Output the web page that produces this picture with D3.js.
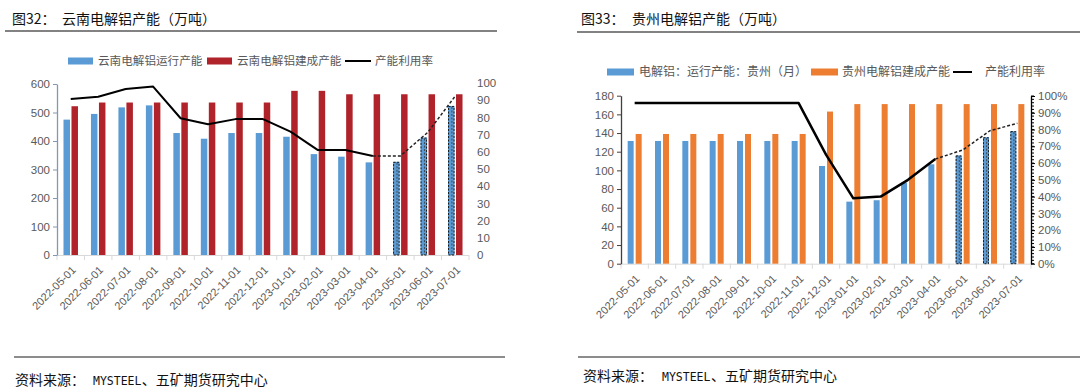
<!DOCTYPE html>
<html><head><meta charset="utf-8">
<script src="https://cdn.jsdelivr.net/npm/d3@7"></script>
<style>
body{margin:0;background:#fff;}
svg{display:block;}
text{font-family:"Liberation Sans","Noto Sans CJK SC",sans-serif;}
.cjk{font-family:"Noto Sans CJK SC",sans-serif;}
</style></head><body>
<svg id="c" width="1080" height="392"></svg>
<script>
// ---------- data ----------
const months = ["2022-05-01","2022-06-01","2022-07-01","2022-08-01","2022-09-01","2022-10-01","2022-11-01","2022-12-01","2023-01-01","2023-02-01","2023-03-01","2023-04-01","2023-05-01","2023-06-01","2023-07-01"];
// Yunnan
const ynRunning = [475,495,518,525,428,408,428,428,415,354,345,325,327,412,523];
const ynBuilt   = [522,535,535,535,535,535,535,535,576,576,564,564,564,564,564];
const ynUtil    = [90.7,92,96.5,97.9,79.5,76,79,79,71.7,61,61,57.6,57.6,71.3,92.4];
const ynLeftTicks  = [0,100,200,300,400,500,600];
const ynRightTicks = [0,10,20,30,40,50,60,70,80,90,100];
// Guizhou
const gzRunning = [131.5,131.5,131.5,131.5,131.5,131.5,131.5,104.7,66.5,68,86.8,106.5,116,135.5,142];
const gzBuilt   = [139,139,139,139,139,139,139,163,171,171,171,171,171,171,171];
const gzUtil    = [0.958,0.958,0.958,0.958,0.958,0.958,0.958,0.65,0.39,0.40,0.50,0.624,0.678,0.793,0.837];
const gzLeftTicks  = [0,20,40,60,80,100,120,140,160,180];
const gzRightTicks = [0,0.1,0.2,0.3,0.4,0.5,0.6,0.7,0.8,0.9,1.0];

const forecastStart = 12; // bars from 2023-05 are forecasts (dashed)
const lineDashFrom = 11;  // line dashed from 2023-04 on

const svg = d3.select("#c");
const tickColor = "#595959";

function drawChart(cfg){
  const g = svg.append("g");
  const x = d3.scaleBand().domain(months).range([cfg.x0, cfg.x1]).padding(0);
  const inner = d3.scaleBand().domain(["run","built"]).range([0, x.bandwidth()])
      .paddingInner(cfg.pIn).paddingOuter(cfg.pOut);
  const yL = d3.scaleLinear().domain(cfg.leftDomain).range([cfg.yBottom, cfg.yTop]);
  const yR = d3.scaleLinear().domain(cfg.rightDomain).range([cfg.yBottom, cfg.yTopR]);

  // x axis line + boundary ticks
  g.append("line").attr("x1",cfg.x0).attr("x2",cfg.x1).attr("y1",cfg.yBottom+0.5).attr("y2",cfg.yBottom+0.5)
    .attr("stroke","#d9d9d9").attr("stroke-width",1);
  const bounds = months.map(m=>x(m)).concat([cfg.x1]);
  g.selectAll(".xt").data(bounds).join("line")
    .attr("x1",d=>d).attr("x2",d=>d).attr("y1",cfg.yBottom).attr("y2",cfg.yBottom+5)
    .attr("stroke","#d9d9d9");
  // x labels
  g.selectAll(".xl").data(months).join("text")
    .attr("transform",d=>`translate(${x(d)+x.bandwidth()/2+3},${cfg.yBottom+13}) rotate(-45)`)
    .attr("text-anchor","end").attr("dy","0.35em")
    .attr("font-size",11).attr("fill",tickColor).text(d=>d);

  // left axis
  const la = g.append("g").attr("transform",`translate(${cfg.x0},0)`)
    .call(d3.axisLeft(yL).tickValues(cfg.leftTicks).tickSize(4).tickSizeOuter(0));
  la.select(".domain").attr("stroke",cfg.leftAxisColor).attr("stroke-width",1.3);
  la.selectAll(".tick line").attr("stroke",cfg.leftAxisColor);
  la.selectAll(".tick text").attr("fill",tickColor).attr("font-size",11.5)
    .attr("font-family","Liberation Sans").attr("x",-7);

  // right axis
  const ra = g.append("g").attr("transform",`translate(${cfg.x1},0)`)
    .call(d3.axisRight(yR).tickValues(cfg.rightTicks).tickSize(cfg.rightTickSize).tickSizeOuter(0)
      .tickFormat(cfg.rightFormat));
  ra.select(".domain").attr("stroke",cfg.rightAxisColor).attr("stroke-width",cfg.rightAxisWidth);
  ra.selectAll(".tick line").attr("stroke",cfg.rightAxisColor);
  ra.selectAll(".tick text").attr("fill",tickColor).attr("font-size",11.5)
    .attr("font-family","Liberation Sans").attr("x",cfg.rightLabelX);
  if(cfg.minorTicks){
    g.append("g").attr("transform",`translate(${cfg.x1},0)`)
      .selectAll("line").data(d3.range(0,1.0001,0.02)).join("line")
      .attr("x1",0).attr("x2",3).attr("y1",d=>yR(d)).attr("y2",d=>yR(d))
      .attr("stroke","#000");
  }

  // bars
  const bars = g.append("g");
  bars.selectAll(".run").data(cfg.run).join("rect")
    .attr("x",(d,i)=>x(months[i])+inner("run"))
    .attr("width",inner.bandwidth())
    .attr("y",d=>yL(d)).attr("height",d=>cfg.yBottom-yL(d))
    .attr("fill","#5b9bd5");
  bars.selectAll(".built").data(cfg.built).join("rect")
    .attr("x",(d,i)=>x(months[i])+inner("built"))
    .attr("width",inner.bandwidth())
    .attr("y",d=>yL(d)).attr("height",d=>cfg.yBottom-yL(d))
    .attr("fill",cfg.builtColor);
  // forecast dashed outlines
  const fc = cfg.run.map((v,i)=>({v,i})).filter(d=>d.i>=forecastStart);
  bars.selectAll(".fc").data(fc).join("rect")
    .attr("x",d=>x(months[d.i])+inner("run")+0.5)
    .attr("width",inner.bandwidth()-1)
    .attr("y",d=>yL(d.v)+0.5).attr("height",d=>cfg.yBottom-yL(d.v)-0.5)
    .attr("fill","none").attr("stroke","#1a1a1a").attr("stroke-width",1)
    .attr("stroke-dasharray","2,1.5");
  bars.selectAll(".fcm").data(fc).join("line")
    .attr("x1",d=>x(months[d.i])+inner("run")+inner.bandwidth()*0.6)
    .attr("x2",d=>x(months[d.i])+inner("run")+inner.bandwidth()*0.6)
    .attr("y1",d=>yL(d.v)+1).attr("y2",cfg.yBottom)
    .attr("stroke","#333").attr("stroke-width",0.8).attr("stroke-dasharray","2,1.5");

  // utilisation line
  const pts = cfg.util.map((v,i)=>[x(months[i])+x.bandwidth()/2, yR(v)]);
  const line = d3.line();
  g.append("path").attr("d",line(pts.slice(0,lineDashFrom+1)))
    .attr("fill","none").attr("stroke","#000").attr("stroke-width",cfg.lineWidth)
    .attr("stroke-linejoin","round");
  g.append("path").attr("d",line(pts.slice(lineDashFrom)))
    .attr("fill","none").attr("stroke","#222").attr("stroke-width",1.5)
    .attr("stroke-dasharray","3,2");

  // legend
  const lg = g.append("g");
  cfg.legend.forEach(it=>{
    if(it.type==="rect"){
      lg.append("rect").attr("x",it.x).attr("y",cfg.legendY-3.5).attr("width",it.w).attr("height",7).attr("fill",it.color);
    } else {
      lg.append("line").attr("x1",it.x).attr("x2",it.x+it.w).attr("y1",cfg.legendY).attr("y2",cfg.legendY)
        .attr("stroke","#000").attr("stroke-width",2);
    }
    lg.append("text").attr("class","cjk").attr("x",it.tx).attr("y",cfg.legendY).attr("dy","0.36em")
      .attr("font-size",cfg.legendFont).attr("fill",tickColor).text(it.label);
  });

  // title
  g.append("text").attr("class","cjk").attr("x",cfg.titleX).attr("y",24).attr("font-size",14).attr("fill","#111").text(cfg.titleA);
  g.append("text").attr("class","cjk").attr("x",cfg.titleX2).attr("y",24).attr("font-size",14).attr("fill","#111").text(cfg.titleB);
  g.append("line").attr("x1",cfg.rule0).attr("x2",cfg.rule1).attr("y1",cfg.ruleTop).attr("y2",cfg.ruleTop)
    .attr("stroke","#595959").attr("stroke-width",1.5);
  g.append("line").attr("x1",cfg.bRule0).attr("x2",cfg.bRule1).attr("y1",357).attr("y2",357)
    .attr("stroke","#666").attr("stroke-width",1.5);
  // source
  const s = g.append("text").attr("y",cfg.srcY).attr("font-size",14).attr("fill","#111");
  s.append("tspan").attr("class","cjk").attr("x",cfg.srcX[0]).text("资料来源：");
  s.append("tspan").attr("x",cfg.srcX[1]).attr("font-family","DejaVu Sans Mono").attr("font-size",11.5).text("MYSTEEL");
  s.append("tspan").attr("class","cjk").attr("x",cfg.srcX[2]).text("、五矿期货研究中心");
}

drawChart({
  x0:57, x1:469, yBottom:255, yTop:84, yTopR:83,
  pIn:0.1875, pOut:0.8125,
  leftDomain:[0,600], rightDomain:[0,100],
  leftTicks:ynLeftTicks, rightTicks:ynRightTicks,
  leftAxisColor:"#8497b0", rightAxisColor:"none", rightAxisWidth:0, rightTickSize:0,
  rightLabelX:8, rightFormat:d=>d, minorTicks:false,
  run:ynRunning, built:ynBuilt, util:ynUtil, builtColor:"#b0232a", lineWidth:2,
  legendY:61, legendFont:11.6,
  legend:[
    {type:"rect",x:68,w:25,color:"#5b9bd5",tx:98,label:"云南电解铝运行产能"},
    {type:"rect",x:207,w:25,color:"#b0232a",tx:237,label:"云南电解铝建成产能"},
    {type:"line",x:345,w:26,tx:375,label:"产能利用率"}
  ],
  titleX:12, titleX2:62, titleA:"图32：", titleB:"云南电解铝产能（万吨）",
  rule0:5, rule1:497, ruleTop:31, bRule0:14, bRule1:505,
  srcY:385, srcX:[15,93,141.7]
});

drawChart({
  x0:621, x1:1031, yBottom:263.7, yTop:95.7, yTopR:96,
  pIn:0.25, pOut:0.833,
  leftDomain:[0,180], rightDomain:[0,1],
  leftTicks:gzLeftTicks, rightTicks:gzRightTicks,
  leftAxisColor:"#404040", rightAxisColor:"#000", rightAxisWidth:1.3, rightTickSize:4,
  rightLabelX:7, rightFormat:d3.format(".0%"), minorTicks:true,
  run:gzRunning, built:gzBuilt, util:gzUtil, builtColor:"#ed7d31", lineWidth:2.5,
  legendY:72, legendFont:12,
  legend:[
    {type:"rect",x:607,w:27,color:"#5b9bd5",tx:639,label:"电解铝：运行产能：贵州（月）"},
    {type:"rect",x:811,w:27,color:"#ed7d31",tx:842,label:"贵州电解铝建成产能"},
    {type:"line",x:953,w:19,tx:985,label:"产能利用率"}
  ],
  titleX:581, titleX2:632, titleA:"图33：", titleB:"贵州电解铝产能（万吨）",
  rule0:577, rule1:1080, ruleTop:32, bRule0:578, bRule1:1080,
  srcY:381, srcX:[583,662,711]
});
</script></body></html>
